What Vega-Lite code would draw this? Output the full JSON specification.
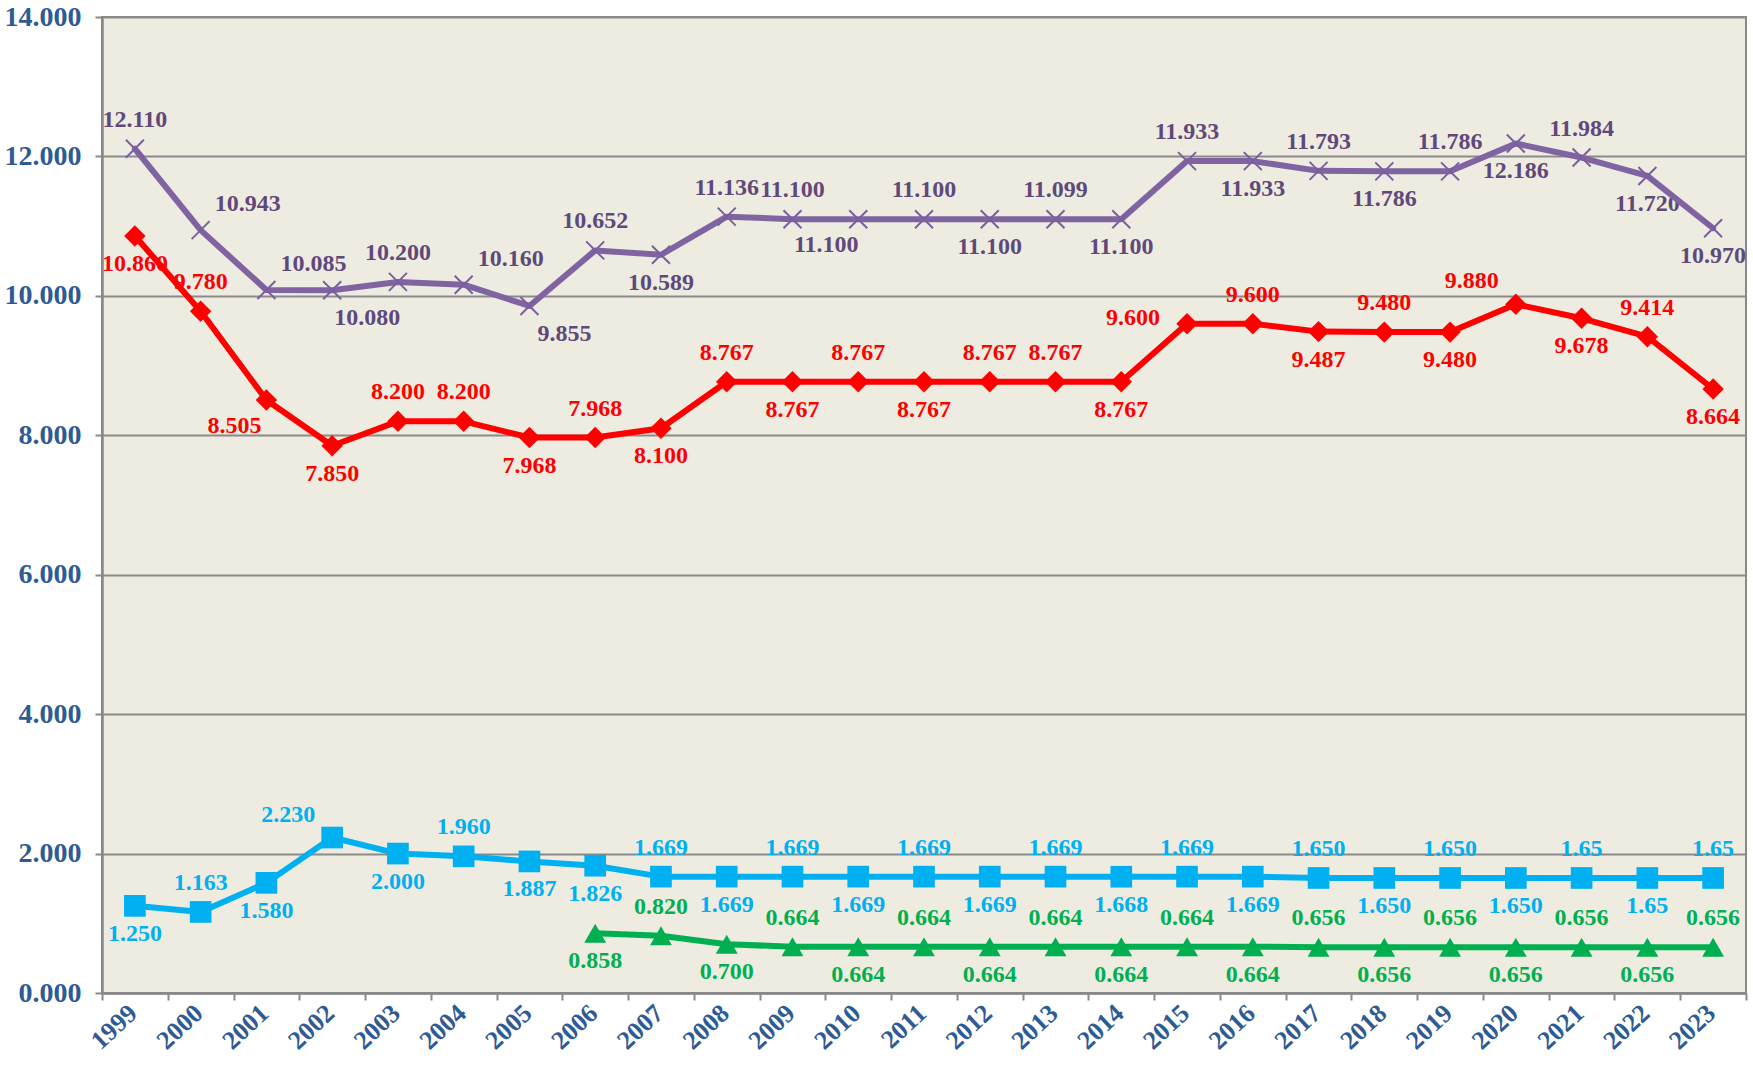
{
  "$schema": "https://vega.github.io/schema/vega-lite/v6.json",
  "width": 1644,
  "height": 976,
  "autosize": {"type": "none"},
  "padding": {"left": 102, "top": 17, "right": 7, "bottom": 76},
  "background": "#FFFFFF",
  "config": {
    "view": {"fill": "#EEECE1", "stroke": "#898989", "strokeWidth": 2},
    "legend": {"disable": true}
  },
  "data": {
    "values": [
      {"year": 1999, "series": "P", "value": 12.110, "label": "12.110"},
      {"year": 2000, "series": "P", "value": 10.943, "label": "10.943"},
      {"year": 2001, "series": "P", "value": 10.085, "label": "10.085"},
      {"year": 2002, "series": "P", "value": 10.080, "label": "10.080"},
      {"year": 2003, "series": "P", "value": 10.200, "label": "10.200"},
      {"year": 2004, "series": "P", "value": 10.160, "label": "10.160"},
      {"year": 2005, "series": "P", "value": 9.855, "label": "9.855"},
      {"year": 2006, "series": "P", "value": 10.652, "label": "10.652"},
      {"year": 2007, "series": "P", "value": 10.589, "label": "10.589"},
      {"year": 2008, "series": "P", "value": 11.136, "label": "11.136"},
      {"year": 2009, "series": "P", "value": 11.100, "label": "11.100"},
      {"year": 2010, "series": "P", "value": 11.100, "label": "11.100"},
      {"year": 2011, "series": "P", "value": 11.100, "label": "11.100"},
      {"year": 2012, "series": "P", "value": 11.100, "label": "11.100"},
      {"year": 2013, "series": "P", "value": 11.099, "label": "11.099"},
      {"year": 2014, "series": "P", "value": 11.100, "label": "11.100"},
      {"year": 2015, "series": "P", "value": 11.933, "label": "11.933"},
      {"year": 2016, "series": "P", "value": 11.933, "label": "11.933"},
      {"year": 2017, "series": "P", "value": 11.793, "label": "11.793"},
      {"year": 2018, "series": "P", "value": 11.786, "label": "11.786"},
      {"year": 2019, "series": "P", "value": 11.786, "label": "11.786"},
      {"year": 2020, "series": "P", "value": 12.186, "label": "12.186"},
      {"year": 2021, "series": "P", "value": 11.984, "label": "11.984"},
      {"year": 2022, "series": "P", "value": 11.720, "label": "11.720"},
      {"year": 2023, "series": "P", "value": 10.970, "label": "10.970"},
      {"year": 1999, "series": "R", "value": 10.860, "label": "10.860"},
      {"year": 2000, "series": "R", "value": 9.780, "label": "9.780"},
      {"year": 2001, "series": "R", "value": 8.505, "label": "8.505"},
      {"year": 2002, "series": "R", "value": 7.850, "label": "7.850"},
      {"year": 2003, "series": "R", "value": 8.200, "label": "8.200"},
      {"year": 2004, "series": "R", "value": 8.200, "label": "8.200"},
      {"year": 2005, "series": "R", "value": 7.968, "label": "7.968"},
      {"year": 2006, "series": "R", "value": 7.968, "label": "7.968"},
      {"year": 2007, "series": "R", "value": 8.100, "label": "8.100"},
      {"year": 2008, "series": "R", "value": 8.767, "label": "8.767"},
      {"year": 2009, "series": "R", "value": 8.767, "label": "8.767"},
      {"year": 2010, "series": "R", "value": 8.767, "label": "8.767"},
      {"year": 2011, "series": "R", "value": 8.767, "label": "8.767"},
      {"year": 2012, "series": "R", "value": 8.767, "label": "8.767"},
      {"year": 2013, "series": "R", "value": 8.767, "label": "8.767"},
      {"year": 2014, "series": "R", "value": 8.767, "label": "8.767"},
      {"year": 2015, "series": "R", "value": 9.600, "label": "9.600"},
      {"year": 2016, "series": "R", "value": 9.600, "label": "9.600"},
      {"year": 2017, "series": "R", "value": 9.487, "label": "9.487"},
      {"year": 2018, "series": "R", "value": 9.480, "label": "9.480"},
      {"year": 2019, "series": "R", "value": 9.480, "label": "9.480"},
      {"year": 2020, "series": "R", "value": 9.880, "label": "9.880"},
      {"year": 2021, "series": "R", "value": 9.678, "label": "9.678"},
      {"year": 2022, "series": "R", "value": 9.414, "label": "9.414"},
      {"year": 2023, "series": "R", "value": 8.664, "label": "8.664"},
      {"year": 1999, "series": "B", "value": 1.250, "label": "1.250"},
      {"year": 2000, "series": "B", "value": 1.163, "label": "1.163"},
      {"year": 2001, "series": "B", "value": 1.580, "label": "1.580"},
      {"year": 2002, "series": "B", "value": 2.230, "label": "2.230"},
      {"year": 2003, "series": "B", "value": 2.000, "label": "2.000"},
      {"year": 2004, "series": "B", "value": 1.960, "label": "1.960"},
      {"year": 2005, "series": "B", "value": 1.887, "label": "1.887"},
      {"year": 2006, "series": "B", "value": 1.826, "label": "1.826"},
      {"year": 2007, "series": "B", "value": 1.669, "label": "1.669"},
      {"year": 2008, "series": "B", "value": 1.669, "label": "1.669"},
      {"year": 2009, "series": "B", "value": 1.669, "label": "1.669"},
      {"year": 2010, "series": "B", "value": 1.669, "label": "1.669"},
      {"year": 2011, "series": "B", "value": 1.669, "label": "1.669"},
      {"year": 2012, "series": "B", "value": 1.669, "label": "1.669"},
      {"year": 2013, "series": "B", "value": 1.669, "label": "1.669"},
      {"year": 2014, "series": "B", "value": 1.668, "label": "1.668"},
      {"year": 2015, "series": "B", "value": 1.669, "label": "1.669"},
      {"year": 2016, "series": "B", "value": 1.669, "label": "1.669"},
      {"year": 2017, "series": "B", "value": 1.650, "label": "1.650"},
      {"year": 2018, "series": "B", "value": 1.650, "label": "1.650"},
      {"year": 2019, "series": "B", "value": 1.650, "label": "1.650"},
      {"year": 2020, "series": "B", "value": 1.650, "label": "1.650"},
      {"year": 2021, "series": "B", "value": 1.65, "label": "1.65"},
      {"year": 2022, "series": "B", "value": 1.65, "label": "1.65"},
      {"year": 2023, "series": "B", "value": 1.65, "label": "1.65"},
      {"year": 2006, "series": "G", "value": 0.858, "label": "0.858"},
      {"year": 2007, "series": "G", "value": 0.820, "label": "0.820"},
      {"year": 2008, "series": "G", "value": 0.700, "label": "0.700"},
      {"year": 2009, "series": "G", "value": 0.664, "label": "0.664"},
      {"year": 2010, "series": "G", "value": 0.664, "label": "0.664"},
      {"year": 2011, "series": "G", "value": 0.664, "label": "0.664"},
      {"year": 2012, "series": "G", "value": 0.664, "label": "0.664"},
      {"year": 2013, "series": "G", "value": 0.664, "label": "0.664"},
      {"year": 2014, "series": "G", "value": 0.664, "label": "0.664"},
      {"year": 2015, "series": "G", "value": 0.664, "label": "0.664"},
      {"year": 2016, "series": "G", "value": 0.664, "label": "0.664"},
      {"year": 2017, "series": "G", "value": 0.656, "label": "0.656"},
      {"year": 2018, "series": "G", "value": 0.656, "label": "0.656"},
      {"year": 2019, "series": "G", "value": 0.656, "label": "0.656"},
      {"year": 2020, "series": "G", "value": 0.656, "label": "0.656"},
      {"year": 2021, "series": "G", "value": 0.656, "label": "0.656"},
      {"year": 2022, "series": "G", "value": 0.656, "label": "0.656"},
      {"year": 2023, "series": "G", "value": 0.656, "label": "0.656"}
    ]
  },
  "transform": [
    {"calculate": "datum.series + datum.year", "as": "k"},
    {"calculate": "indexof(['P2000','P2001','P2004'], datum.k) >= 0 ? 'aR' : indexof(['P2002','P2005'], datum.k) >= 0 ? 'bR' : indexof(['R2001','P2010'], datum.k) >= 0 ? 'bL' : indexof(['B2002','R2020'], datum.k) >= 0 ? 'aL' : datum.k == 'R2015' ? 'L' : (indexof(['P2007','P2012','P2014','P2016','P2018','P2020','P2022','P2023','R1999','R2002','R2005','R2007','R2009','R2011','R2014','R2017','R2019','R2021','R2023','B1999','B2001','B2003','B2005','B2006','B2008','B2010','B2012','B2014','B2016','B2018','B2020','B2022'], datum.k) >= 0 || (datum.series == 'G' && datum.year % 2 == 0)) ? 'b' : 'a'", "as": "pos"}
  ],
  "encoding": {
    "x": {
      "field": "year", "type": "ordinal",
      "scale": {"type": "band", "paddingInner": 0, "paddingOuter": 0},
      "axis": {
        "title": null, "tickBand": "extent", "grid": false,
        "labelAngle": -43, "labelAlign": "right", "labelBaseline": "middle",
        "labelFont": "Liberation Serif", "labelFontWeight": "bold", "labelFontSize": 26,
        "labelColor": "#2F5B94", "labelPadding": 9, "labelOffset": -2,
        "domainColor": "#898989", "domainWidth": 2.5,
        "tickColor": "#898989", "tickWidth": 2, "tickSize": 7
      }
    },
    "y": {
      "field": "value", "type": "quantitative",
      "scale": {"domain": [0, 14], "nice": false},
      "axis": {
        "title": null, "values": [0, 2, 4, 6, 8, 10, 12, 14], "format": ".3f",
        "labelFont": "Liberation Serif", "labelFontWeight": "bold", "labelFontSize": 28,
        "labelColor": "#2F5B94", "labelPadding": 14,
        "domainColor": "#898989", "domainWidth": 2.5,
        "tickColor": "#898989", "tickWidth": 2, "tickSize": 7,
        "grid": true, "gridColor": "#8A8A8A", "gridWidth": 2
      }
    }
  },
  "layer": [
    {
      "transform": [{"filter": "datum.pos == 'a'"}],
      "mark": {"type": "text", "font": "Liberation Serif", "fontWeight": "bold", "fontSize": 24, "baseline": "middle", "align": "center", "dy": -29},
      "encoding": {"text": {"field": "label"}, "color": {"field": "series", "type": "nominal", "scale": {"domain": ["P", "R", "B", "G"], "range": ["#5F497A", "#FF0000", "#00B0F0", "#00B050"]}}}
    },
    {
      "transform": [{"filter": "datum.pos == 'b'"}],
      "mark": {"type": "text", "font": "Liberation Serif", "fontWeight": "bold", "fontSize": 24, "baseline": "middle", "align": "center", "dy": 28},
      "encoding": {"text": {"field": "label"}, "color": {"field": "series", "type": "nominal", "scale": {"domain": ["P", "R", "B", "G"], "range": ["#5F497A", "#FF0000", "#00B0F0", "#00B050"]}}}
    },
    {
      "transform": [{"filter": "datum.pos == 'aR'"}],
      "mark": {"type": "text", "font": "Liberation Serif", "fontWeight": "bold", "fontSize": 24, "baseline": "middle", "align": "center", "dx": 47, "dy": -26},
      "encoding": {"text": {"field": "label"}, "color": {"field": "series", "type": "nominal", "scale": {"domain": ["P", "R", "B", "G"], "range": ["#5F497A", "#FF0000", "#00B0F0", "#00B050"]}}}
    },
    {
      "transform": [{"filter": "datum.pos == 'bR'"}],
      "mark": {"type": "text", "font": "Liberation Serif", "fontWeight": "bold", "fontSize": 24, "baseline": "middle", "align": "center", "dx": 35, "dy": 28},
      "encoding": {"text": {"field": "label"}, "color": {"field": "series", "type": "nominal", "scale": {"domain": ["P", "R", "B", "G"], "range": ["#5F497A", "#FF0000", "#00B0F0", "#00B050"]}}}
    },
    {
      "transform": [{"filter": "datum.pos == 'bL'"}],
      "mark": {"type": "text", "font": "Liberation Serif", "fontWeight": "bold", "fontSize": 24, "baseline": "middle", "align": "center", "dx": -32, "dy": 26},
      "encoding": {"text": {"field": "label"}, "color": {"field": "series", "type": "nominal", "scale": {"domain": ["P", "R", "B", "G"], "range": ["#5F497A", "#FF0000", "#00B0F0", "#00B050"]}}}
    },
    {
      "transform": [{"filter": "datum.pos == 'aL'"}],
      "mark": {"type": "text", "font": "Liberation Serif", "fontWeight": "bold", "fontSize": 24, "baseline": "middle", "align": "center", "dx": -44, "dy": -23},
      "encoding": {"text": {"field": "label"}, "color": {"field": "series", "type": "nominal", "scale": {"domain": ["P", "R", "B", "G"], "range": ["#5F497A", "#FF0000", "#00B0F0", "#00B050"]}}}
    },
    {
      "transform": [{"filter": "datum.pos == 'L'"}],
      "mark": {"type": "text", "font": "Liberation Serif", "fontWeight": "bold", "fontSize": 24, "baseline": "middle", "align": "center", "dx": -54, "dy": -6},
      "encoding": {"text": {"field": "label"}, "color": {"field": "series", "type": "nominal", "scale": {"domain": ["P", "R", "B", "G"], "range": ["#5F497A", "#FF0000", "#00B0F0", "#00B050"]}}}
    },
    {
      "mark": {"type": "line", "strokeWidth": 6, "strokeJoin": "round", "strokeCap": "round"},
      "encoding": {"color": {"field": "series", "type": "nominal", "scale": {"domain": ["P", "R", "B", "G"], "range": ["#8064A2", "#FF0000", "#00B0F0", "#00B050"]}}}
    },
    {
      "transform": [{"filter": "datum.series != 'P'"}],
      "mark": {"type": "point", "filled": true, "opacity": 1},
      "encoding": {
        "color": {"field": "series", "type": "nominal", "scale": {"domain": ["P", "R", "B", "G"], "range": ["#8064A2", "#FF0000", "#00B0F0", "#00B050"]}},
        "shape": {"field": "series", "type": "nominal", "scale": {"domain": ["R", "B", "G"], "range": ["diamond", "square", "triangle-up"]}},
        "size": {"field": "series", "type": "nominal", "scale": {"domain": ["R", "B", "G"], "range": [460, 480, 580]}}
      }
    },
    {
      "transform": [{"filter": "datum.series == 'P'"}],
      "mark": {"type": "point", "filled": false, "shape": "M-1,-1L1,1M-1,1L1,-1", "size": 324, "stroke": "#7A5FA0", "strokeWidth": 2, "opacity": 1},
      "encoding": {}
    }
  ],
  "resolve": {"scale": {"color": "independent", "shape": "independent", "size": "independent"}}
}
